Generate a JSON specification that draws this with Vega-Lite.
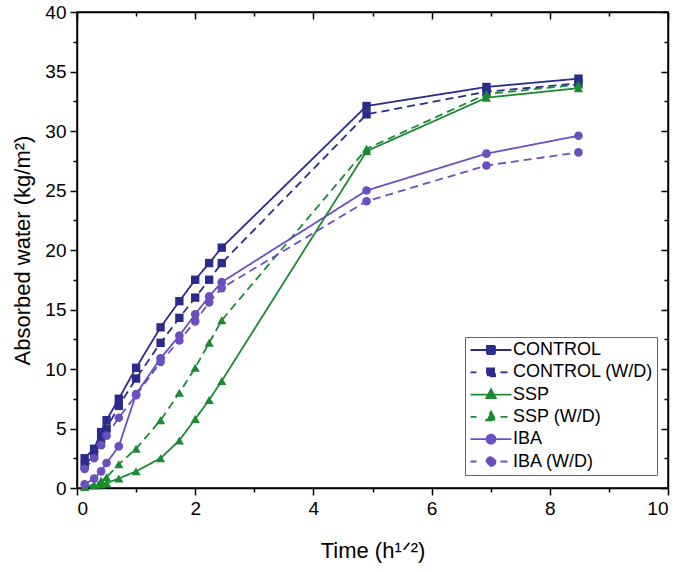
{
  "$schema": "https://vega.github.io/schema/vega-lite/v6.json",
  "width": 591,
  "height": 476,
  "autosize": {"type": "none"},
  "padding": {"left": 77, "top": 12, "right": 17, "bottom": 84},
  "background": "white",
  "config": {
    "font": "Liberation Sans",
    "view": {"stroke": "black", "strokeWidth": 1.5},
    "axis": {"grid": false, "domainColor": "black", "domainWidth": 1.5, "tickColor": "black", "tickWidth": 1.5, "labelColor": "black", "titleColor": "black", "labelFont": "Liberation Sans", "titleFont": "Liberation Sans", "labelFontSize": 19, "titleFontSize": 22, "titleFontWeight": "normal"},
    "legend": {"title": null, "orient": "none", "legendX": 388, "legendY": 325, "strokeColor": "#666", "fillColor": "white", "padding": 4, "labelFontSize": 18, "labelColor": "black", "labelFont": "Liberation Sans", "rowPadding": 4.3, "symbolOffset": 13, "labelOffset": 13}
  },
  "data": {"values": [
    {"series": "CONTROL", "t": 0.129, "v": 2.5}, {"series": "CONTROL", "t": 0.289, "v": 3.3}, {"series": "CONTROL", "t": 0.408, "v": 4.7}, {"series": "CONTROL", "t": 0.5, "v": 5.7}, {"series": "CONTROL", "t": 0.707, "v": 7.5}, {"series": "CONTROL", "t": 1, "v": 10.1}, {"series": "CONTROL", "t": 1.414, "v": 13.5}, {"series": "CONTROL", "t": 1.732, "v": 15.7}, {"series": "CONTROL", "t": 2, "v": 17.5}, {"series": "CONTROL", "t": 2.236, "v": 18.9}, {"series": "CONTROL", "t": 2.449, "v": 20.2}, {"series": "CONTROL", "t": 4.899, "v": 32.1}, {"series": "CONTROL", "t": 6.928, "v": 33.7}, {"series": "CONTROL", "t": 8.485, "v": 34.4},
    {"series": "CONTROL (W/D)", "t": 0.129, "v": 1.9}, {"series": "CONTROL (W/D)", "t": 0.289, "v": 2.8}, {"series": "CONTROL (W/D)", "t": 0.408, "v": 4.1}, {"series": "CONTROL (W/D)", "t": 0.5, "v": 5.0}, {"series": "CONTROL (W/D)", "t": 0.707, "v": 6.9}, {"series": "CONTROL (W/D)", "t": 1, "v": 9.2}, {"series": "CONTROL (W/D)", "t": 1.414, "v": 12.2}, {"series": "CONTROL (W/D)", "t": 1.732, "v": 14.3}, {"series": "CONTROL (W/D)", "t": 2, "v": 16.0}, {"series": "CONTROL (W/D)", "t": 2.236, "v": 17.5}, {"series": "CONTROL (W/D)", "t": 2.449, "v": 18.9}, {"series": "CONTROL (W/D)", "t": 4.899, "v": 31.4}, {"series": "CONTROL (W/D)", "t": 6.928, "v": 33.3}, {"series": "CONTROL (W/D)", "t": 8.485, "v": 34.0},
    {"series": "SSP", "t": 0.129, "v": 0.1}, {"series": "SSP", "t": 0.289, "v": 0.2}, {"series": "SSP", "t": 0.408, "v": 0.3}, {"series": "SSP", "t": 0.5, "v": 0.4}, {"series": "SSP", "t": 0.707, "v": 0.8}, {"series": "SSP", "t": 1, "v": 1.4}, {"series": "SSP", "t": 1.414, "v": 2.5}, {"series": "SSP", "t": 1.732, "v": 4.0}, {"series": "SSP", "t": 2, "v": 5.8}, {"series": "SSP", "t": 2.236, "v": 7.4}, {"series": "SSP", "t": 2.449, "v": 9.0}, {"series": "SSP", "t": 4.899, "v": 28.3}, {"series": "SSP", "t": 6.928, "v": 32.8}, {"series": "SSP", "t": 8.485, "v": 33.6},
    {"series": "SSP (W/D)", "t": 0.129, "v": 0.1}, {"series": "SSP (W/D)", "t": 0.289, "v": 0.3}, {"series": "SSP (W/D)", "t": 0.408, "v": 0.6}, {"series": "SSP (W/D)", "t": 0.5, "v": 0.9}, {"series": "SSP (W/D)", "t": 0.707, "v": 2.0}, {"series": "SSP (W/D)", "t": 1, "v": 3.3}, {"series": "SSP (W/D)", "t": 1.414, "v": 5.7}, {"series": "SSP (W/D)", "t": 1.732, "v": 8.0}, {"series": "SSP (W/D)", "t": 2, "v": 10.1}, {"series": "SSP (W/D)", "t": 2.236, "v": 12.2}, {"series": "SSP (W/D)", "t": 2.449, "v": 14.1}, {"series": "SSP (W/D)", "t": 4.899, "v": 28.5}, {"series": "SSP (W/D)", "t": 6.928, "v": 33.1}, {"series": "SSP (W/D)", "t": 8.485, "v": 33.9},
    {"series": "IBA", "t": 0.129, "v": 0.3}, {"series": "IBA", "t": 0.289, "v": 0.8}, {"series": "IBA", "t": 0.408, "v": 1.4}, {"series": "IBA", "t": 0.5, "v": 2.1}, {"series": "IBA", "t": 0.707, "v": 3.5}, {"series": "IBA", "t": 1, "v": 7.9}, {"series": "IBA", "t": 1.414, "v": 10.9}, {"series": "IBA", "t": 1.732, "v": 12.8}, {"series": "IBA", "t": 2, "v": 14.6}, {"series": "IBA", "t": 2.236, "v": 16.1}, {"series": "IBA", "t": 2.449, "v": 17.3}, {"series": "IBA", "t": 4.899, "v": 25.0}, {"series": "IBA", "t": 6.928, "v": 28.1}, {"series": "IBA", "t": 8.485, "v": 29.6},
    {"series": "IBA (W/D)", "t": 0.129, "v": 1.6}, {"series": "IBA (W/D)", "t": 0.289, "v": 2.5}, {"series": "IBA (W/D)", "t": 0.408, "v": 3.6}, {"series": "IBA (W/D)", "t": 0.5, "v": 4.4}, {"series": "IBA (W/D)", "t": 0.707, "v": 5.9}, {"series": "IBA (W/D)", "t": 1, "v": 7.8}, {"series": "IBA (W/D)", "t": 1.414, "v": 10.6}, {"series": "IBA (W/D)", "t": 1.732, "v": 12.4}, {"series": "IBA (W/D)", "t": 2, "v": 14.0}, {"series": "IBA (W/D)", "t": 2.236, "v": 15.6}, {"series": "IBA (W/D)", "t": 2.449, "v": 16.8}, {"series": "IBA (W/D)", "t": 4.899, "v": 24.1}, {"series": "IBA (W/D)", "t": 6.928, "v": 27.1}, {"series": "IBA (W/D)", "t": 8.485, "v": 28.2}
  ]},
  "resolve": {"axis": {"x": "independent", "y": "independent"}},
  "layer": [
    {
      "mark": {"type": "line", "strokeWidth": 1.8},
      "encoding": {
        "x": {"field": "t", "type": "quantitative", "scale": {"domain": [0, 10], "nice": false},
          "axis": {"orient": "bottom", "title": "Time (h¹ᐟ²)", "values": [0,1,2,3,4,5,6,7,8,9,10], "labelExpr": "datum.value % 2 === 0 ? datum.label : ''", "tickSize": {"expr": "datum.value % 2 === 0 ? 7 : 4"}, "labelPadding": 4, "titlePadding": 22}},
        "y": {"field": "v", "type": "quantitative", "scale": {"domain": [0, 40], "nice": false},
          "axis": {"orient": "left", "title": "Absorbed water (kg/m²)", "values": [0,2.5,5,7.5,10,12.5,15,17.5,20,22.5,25,27.5,30,32.5,35,37.5,40], "labelExpr": "datum.value % 5 === 0 ? datum.label : ''", "tickSize": {"expr": "datum.value % 5 === 0 ? 7 : 4"}, "labelPadding": 4, "titlePadding": 10}},
        "color": {"field": "series", "type": "nominal",
          "scale": {"domain": ["CONTROL", "CONTROL (W/D)", "SSP", "SSP (W/D)", "IBA", "IBA (W/D)"], "range": ["#2b2b8c", "#2b2b8c", "#1b8a33", "#1b8a33", "#6a4fbf", "#6a4fbf"]},
          "legend": {
            "encode": {"symbols": {"update": {
              "shape": {"signal": "(indexof(datum.value,'W/D')>=0 ? 'M-4.1,0H-2.9M1.9,0H3.3' : 'M-4.1,0H4.1') + (indexof(datum.value,'CONTROL')>=0 ? 'M-0.8,-0.8H0.8V0.8H-0.8Z' : indexof(datum.value,'SSP')>=0 ? 'M0,-1.05L0.95,0.7H-0.95Z' : 'M0.9,0A0.9,0.9,0,1,1,-0.9,0A0.9,0.9,0,1,1,0.9,0Z')"},
              "size": {"value": 100},
              "fill": {"scale": "color", "field": "value"},
              "stroke": {"scale": "color", "field": "value"},
              "strokeWidth": {"value": 1.8},
              "strokeDash": {"value": [1, 0]},
              "opacity": {"value": 1},
              "fillOpacity": {"value": 1}
            }}}}},
        "strokeDash": {"field": "series", "type": "nominal", "legend": null,
          "scale": {"domain": ["CONTROL", "CONTROL (W/D)", "SSP", "SSP (W/D)", "IBA", "IBA (W/D)"], "range": [[1, 0], [8, 5], [1, 0], [8, 5], [1, 0], [8, 5]]}}
      }
    },
    {
      "transform": [{"filter": {"field": "series", "oneOf": ["CONTROL", "CONTROL (W/D)"]}}],
      "mark": {"type": "square", "opacity": 1, "size": 70},
      "encoding": {
        "x": {"field": "t", "type": "quantitative", "axis": {"orient": "top", "title": null, "labels": false, "values": [0,1,2,3,4,5,6,7,8,9,10], "tickSize": {"expr": "datum.value % 2 === 0 ? -7 : -4"}}},
        "y": {"field": "v", "type": "quantitative", "axis": {"orient": "right", "title": null, "labels": false, "values": [0,2.5,5,7.5,10,12.5,15,17.5,20,22.5,25,27.5,30,32.5,35,37.5,40], "tickSize": {"expr": "datum.value % 5 === 0 ? -7 : -4"}}},
        "color": {"field": "series", "type": "nominal"}
      }
    },
    {
      "transform": [{"filter": {"field": "series", "oneOf": ["SSP", "SSP (W/D)"]}}],
      "mark": {"type": "point", "shape": "triangle-up", "filled": true, "opacity": 1, "size": 85},
      "encoding": {
        "x": {"field": "t", "type": "quantitative", "axis": null},
        "y": {"field": "v", "type": "quantitative", "axis": null},
        "color": {"field": "series", "type": "nominal"}
      }
    },
    {
      "transform": [{"filter": {"field": "series", "oneOf": ["IBA", "IBA (W/D)"]}}],
      "mark": {"type": "circle", "opacity": 1, "size": 75},
      "encoding": {
        "x": {"field": "t", "type": "quantitative", "axis": null},
        "y": {"field": "v", "type": "quantitative", "axis": null},
        "color": {"field": "series", "type": "nominal"}
      }
    }
  ]
}
